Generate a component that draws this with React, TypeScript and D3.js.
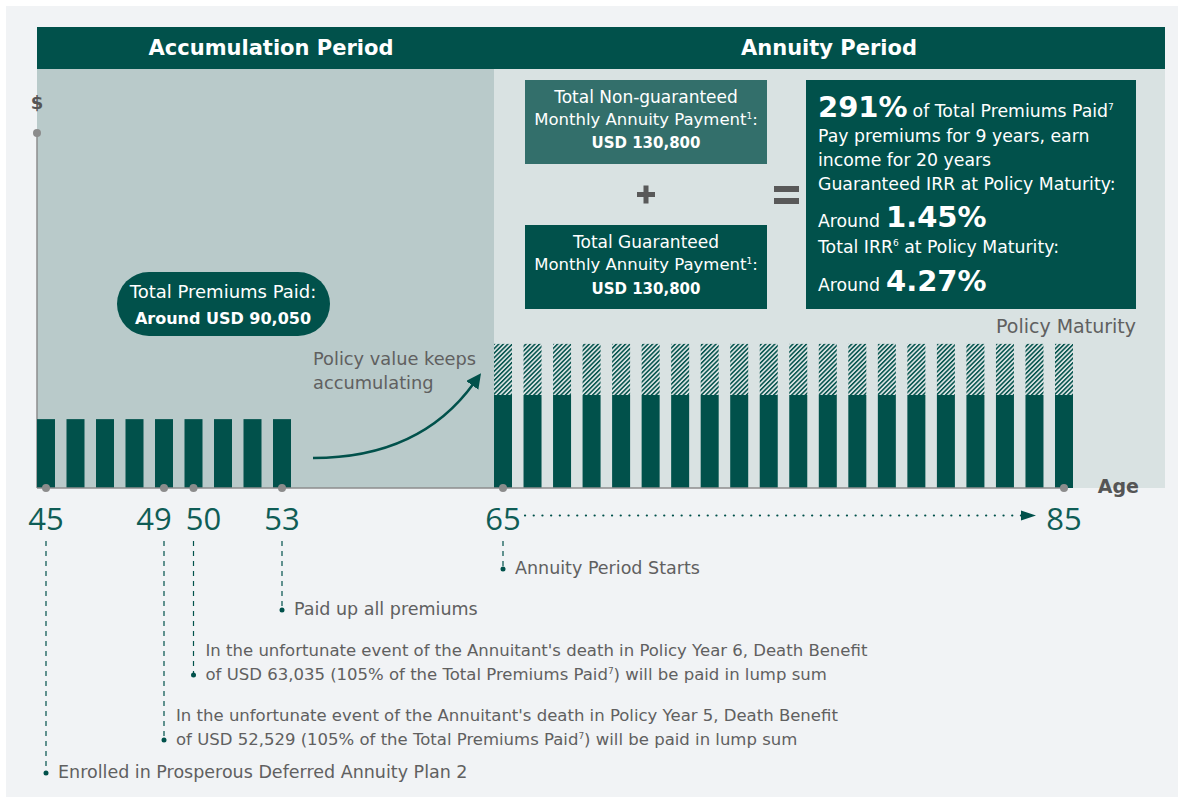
import React from "react";
import * as d3 from "d3";

const W = 1184;
const H = 803;
const FONT = "'DejaVu Sans', sans-serif";
const NUMFONT = "'Open Sans', Roboto, sans-serif";

const DARK = "#01514b";
const MID = "#336f6b";
const TEAL_TXT = "#0f5d56";
const GRAY_TXT = "#606060";
const AXIS = "#8c8c8c";

// Data
const accAges = [45, 46, 47, 48, 49, 50, 51, 52, 53];
const premiumValues = [19.4, 19.4, 19.4, 19.4, 19.4, 19.4, 19.4, 19.4, 19.4];
const annuityIndex = [0, 1, 2, 3, 4, 5, 6, 7, 8, 9, 10, 11, 12, 13, 14, 15, 16, 17, 18, 19];
const guaranteedValues = [26.2, 26.2, 26.2, 26.2, 26.2, 26.2, 26.2, 26.2, 26.2, 26.2, 26.2, 26.2, 26.2, 26.2, 26.2, 26.2, 26.2, 26.2, 26.2, 26.2];
const nonGuaranteedValues = [14.4, 14.4, 14.4, 14.4, 14.4, 14.4, 14.4, 14.4, 14.4, 14.4, 14.4, 14.4, 14.4, 14.4, 14.4, 14.4, 14.4, 14.4, 14.4, 14.4];
const accTickAges = [45, 49, 50, 53];
const annTickIdx = [0, 19];
const annTickLabels = ["65", "85"];

// label nudges (layout only)
const accTickNudge = [0, -10, 10, 0];

const annotations = [
  { kind: "acc", key: 53, dotY: 610, lines: ["Paid up all premiums"] },
  {
    kind: "acc",
    key: 50,
    dotY: 675,
    lines: [
      "In the unfortunate event of the Annuitant's death in Policy Year 6, Death Benefit",
      "of USD 63,035 (105% of the Total Premiums Paid|7|) will be paid in lump sum",
    ],
  },
  {
    kind: "acc",
    key: 49,
    dotY: 740,
    lines: [
      "In the unfortunate event of the Annuitant's death in Policy Year 5, Death Benefit",
      "of USD 52,529 (105% of the Total Premiums Paid|7|) will be paid in lump sum",
    ],
  },
  { kind: "acc", key: 45, dotY: 773, lines: ["Enrolled in Prosperous Deferred Annuity Plan 2"] },
  { kind: "ann", key: 0, dotY: 569, lines: ["Annuity Period Starts"] },
];

function renderSup(s: string, supSize: number) {
  const parts = s.split("|");
  return parts.map((p, i) =>
    i % 2 === 1 ? (
      <tspan key={i} fontSize={supSize} dy={-6}>
        {p}
      </tspan>
    ) : i > 0 ? (
      <tspan key={i} dy={6}>
        {p}
      </tspan>
    ) : (
      <tspan key={i}>{p}</tspan>
    )
  );
}

export default function App() {
  const xAcc = d3.scaleLinear().domain([45, 53]).range([46, 282]);
  const xAnn = d3.scaleLinear().domain([0, 19]).range([503, 1064]);
  const y = d3.scaleLinear().domain([0, 100]).range([488, 133]);
  const barW = 18;

  const arrowPath = d3.path();
  arrowPath.moveTo(313, 458);
  arrowPath.quadraticCurveTo(420, 458, 474, 383);

  return (
    <svg
      width={W}
      height={H}
      viewBox={`0 0 ${W} ${H}`}
      style={{ position: "absolute", left: 0, top: 0, fontFamily: FONT }}
    >
      <defs>
        <pattern id="hatch" width="3.2" height="3.2" patternUnits="userSpaceOnUse" patternTransform="rotate(45)">
          <rect width="3.2" height="3.2" fill="#d9e2e2" />
          <rect x="0" y="0" width="1.5" height="3.2" fill={DARK} />
        </pattern>
        <marker id="ah" viewBox="0 0 10 10" refX="2" refY="5" markerWidth="6" markerHeight="6" orient="auto">
          <path d="M0,0 L10,5 L0,10 z" fill={DARK} />
        </marker>
      </defs>
      <rect x={0} y={0} width={W} height={H} fill="#ffffff" />
      <rect x={6} y={6} width={1172} height={791} fill="#f1f3f5" />

      {/* region backgrounds */}
      <rect x={37} y={68} width={457} height={420} fill="#b9caca" />
      <rect x={494} y={68} width={671} height={420} fill="#d9e2e2" />

      {/* header */}
      <rect x={37} y={27} width={1128} height={42} fill={DARK} />
      <text x={271} y={55} textAnchor="middle" fill="#fff" fontSize={21} fontWeight={700}>
        Accumulation Period
      </text>
      <text x={829} y={55} textAnchor="middle" fill="#fff" fontSize={21} fontWeight={700}>
        Annuity Period
      </text>

      {/* y axis */}
      <text x={37} y={109} textAnchor="middle" fill="#555" fontSize={18} fontWeight={700}>
        $
      </text>
      <line x1={37} x2={37} y1={133} y2={488} stroke={AXIS} strokeWidth={1.5} />
      <circle cx={37} cy={133} r={4} fill={AXIS} />

      {/* accumulation bars */}
      {accAges.map((a, i) => (
        <rect key={a} x={xAcc(a) - barW / 2} y={y(premiumValues[i])} width={barW} height={y(0) - y(premiumValues[i])} fill={DARK} />
      ))}

      {/* annuity bars */}
      {annuityIndex.map((k, i) => (
        <g key={k}>
          <rect
            x={xAnn(k) - barW / 2}
            y={y(guaranteedValues[i] + nonGuaranteedValues[i])}
            width={barW}
            height={y(guaranteedValues[i]) - y(guaranteedValues[i] + nonGuaranteedValues[i])}
            fill="url(#hatch)"
          />
          <rect x={xAnn(k) - barW / 2} y={y(guaranteedValues[i])} width={barW} height={y(0) - y(guaranteedValues[i])} fill={DARK} />
        </g>
      ))}

      {/* x axis */}
      <line x1={37} x2={xAnn(19)} y1={488} y2={488} stroke={AXIS} strokeWidth={1.5} />
      {accTickAges.map((a) => (
        <circle key={a} cx={xAcc(a)} cy={488} r={4} fill={AXIS} />
      ))}
      {annTickIdx.map((k) => (
        <circle key={k} cx={xAnn(k)} cy={488} r={4} fill={AXIS} />
      ))}
      <text x={1139} y={493} textAnchor="end" fill="#555" fontSize={19} fontWeight={700}>
        Age
      </text>

      {/* tick labels */}
      {accTickAges.map((a, i) => (
        <text key={a} x={xAcc(a) + accTickNudge[i]} y={530} textAnchor="middle" fill={TEAL_TXT} fontSize={31} fontWeight={400} fontFamily={NUMFONT}>
          {a}
        </text>
      ))}
      {annTickIdx.map((k, i) => (
        <text key={k} x={xAnn(k)} y={530} textAnchor="middle" fill={TEAL_TXT} fontSize={31} fontWeight={400} fontFamily={NUMFONT}>
          {annTickLabels[i]}
        </text>
      ))}
      {/* dotted arrow 65 -> 85 */}
      <line x1={525} x2={1022} y1={515.5} y2={515.5} stroke={DARK} strokeWidth={2.2} strokeDasharray="0.1 8.6" strokeLinecap="round" />
      <path d="M1021,510.5 L1036,515.5 L1021,520.5 z" fill={DARK} />

      {/* Policy Maturity */}
      <text x={1136} y={333} textAnchor="end" fill={GRAY_TXT} fontSize={19}>
        Policy Maturity
      </text>

      {/* pill */}
      <rect x={117} y={272} width={213} height={64} rx={32} fill={DARK} />
      <text x={223} y={298} textAnchor="middle" fill="#fff" fontSize={18}>
        Total Premiums Paid:
      </text>
      <text x={223} y={324} textAnchor="middle" fill="#fff" fontSize={16} fontWeight={700}>
        Around USD 90,050
      </text>

      {/* policy value text */}
      <text x={313} y={365} fill={GRAY_TXT} fontSize={17.8}>
        Policy value keeps
      </text>
      <text x={313} y={389} fill={GRAY_TXT} fontSize={17.8}>
        accumulating
      </text>
      <path d={arrowPath.toString()} fill="none" stroke={DARK} strokeWidth={2.5} markerEnd="url(#ah)" />

      {/* Box 1 */}
      <rect x={525} y={80} width={242} height={84} fill={MID} />
      <text x={646} y={103} textAnchor="middle" fill="#fff" fontSize={17}>
        Total Non-guaranteed
      </text>
      <text x={646} y={125} textAnchor="middle" fill="#fff" fontSize={16.5}>
        {renderSup("Monthly Annuity Payment|1|:", 9)}
      </text>
      <text x={646} y={148} textAnchor="middle" fill="#fff" fontSize={15} fontWeight={700}>
        USD 130,800
      </text>

      {/* plus */}
      <rect x={637} y={192} width={18} height={5} fill="#595959" />
      <rect x={643.5} y={185.5} width={5} height={18} fill="#595959" />

      {/* Box 2 */}
      <rect x={525} y={225} width={242} height={84} fill={DARK} />
      <text x={646} y={248} textAnchor="middle" fill="#fff" fontSize={17}>
        Total Guaranteed
      </text>
      <text x={646} y={270} textAnchor="middle" fill="#fff" fontSize={16.5}>
        {renderSup("Monthly Annuity Payment|1|:", 9)}
      </text>
      <text x={646} y={294} textAnchor="middle" fill="#fff" fontSize={15} fontWeight={700}>
        USD 130,800
      </text>

      {/* equals */}
      <rect x={774} y={186} width={25} height={6} fill="#595959" />
      <rect x={774} y={198} width={25} height={6} fill="#595959" />

      {/* Box 3 */}
      <rect x={806} y={80} width={330} height={229} fill={DARK} />
      <text x={818} y={117} fill="#fff" fontSize={17.3}>
        <tspan fontSize={29} fontWeight={700}>291%</tspan>
        <tspan dx={5}>of Total Premiums Paid</tspan>
        <tspan fontSize={9} dy={-7}>7</tspan>
      </text>
      <text x={818} y={142} fill="#fff" fontSize={17.3}>
        Pay premiums for 9 years, earn
      </text>
      <text x={818} y={166} fill="#fff" fontSize={17.3}>
        income for 20 years
      </text>
      <text x={818} y={190} fill="#fff" fontSize={17.3}>
        Guaranteed IRR at Policy Maturity:
      </text>
      <text x={818} y={227} fill="#fff" fontSize={17.3}>
        Around
        <tspan dx={6} fontSize={29} fontWeight={700}>1.45%</tspan>
      </text>
      <text x={818} y={253} fill="#fff" fontSize={17.3}>
        Total IRR<tspan fontSize={9} dy={-7}>6</tspan>
        <tspan dy={7}> at Policy Maturity:</tspan>
      </text>
      <text x={818} y={291} fill="#fff" fontSize={17.3}>
        Around
        <tspan dx={6} fontSize={29} fontWeight={700}>4.27%</tspan>
      </text>

      {/* annotations */}
      {annotations.map((a, i) => {
        const x = a.kind === "acc" ? xAcc(a.key) : xAnn(a.key);
        const n = a.lines.length;
        const fs = n > 1 ? 16.5 : 17.5;
        return (
          <g key={i}>
            <line x1={x} x2={x} y1={541} y2={a.dotY} stroke={DARK} strokeWidth={1.2} strokeDasharray="5 5" />
            <circle cx={x} cy={a.dotY} r={2.5} fill={DARK} />
            {a.lines.map((l, j) => (
              <text key={j} x={x + 12} y={a.dotY + 5 - (n - 1 - j) * 24} fill={GRAY_TXT} fontSize={fs}>
                {renderSup(l, 9)}
              </text>
            ))}
          </g>
        );
      })}
    </svg>
  );
}
